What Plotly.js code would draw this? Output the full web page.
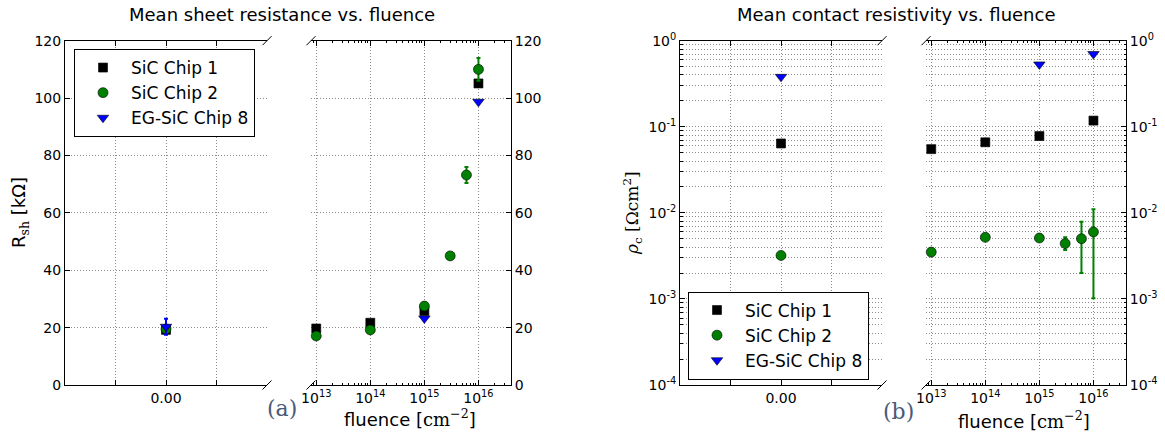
<!DOCTYPE html>
<html>
<head>
<meta charset="utf-8">
<script src="https://cdn.plot.ly/plotly-3.0.1.min.js"></script>
<style>html,body{margin:0;padding:0;background:#fff;}#chart{width:1165px;height:432px;}</style>
</head>
<body>
<div id="chart"></div>
<script>
// ---------- DATA ----------
const seriesNames = ['SiC Chip 1', 'SiC Chip 2', 'EG-SiC Chip 8'];

// unirradiated (fluence 0) sheet resistance [kOhm]
const rshZeroX = [0];
const rshZeroChip1 = [19.2];
const rshZeroChip2 = [19.5];
const rshZeroChip8 = [20.3];
const rshZeroChip8Err = [2.8];

// irradiated sheet resistance [kOhm]
const rshChip1X = [1e13, 1e14, 1e15, 1e16];
const rshChip1Y = [19.7, 21.7, 25.8, 105.1];
const rshChip2X = [1e13, 1e14, 1e15, 3e15, 6e15, 1e16];
const rshChip2Y = [17.1, 19.2, 27.5, 45.0, 73.2, 110.0];
const rshChip2Err = [0.5, 0.5, 1.0, 0.8, 2.8, 4.0];
const rshChip8X = [1e15, 1e16];
const rshChip8Y = [23.2, 98.7];

// unirradiated contact resistivity [Ohm cm^2]
const rcZeroX = [0];
const rcZeroChip1 = [0.064];
const rcZeroChip2 = [0.0032];
const rcZeroChip8 = [0.38];

// irradiated contact resistivity [Ohm cm^2]
const rcChip1X = [1e13, 1e14, 1e15, 1e16];
const rcChip1Y = [0.055, 0.066, 0.078, 0.118];
const rcChip2X = [1e13, 1e14, 1e15, 3e15, 6e15, 1e16];
const rcChip2Y = [0.0035, 0.0052, 0.0051, 0.0044, 0.0050, 0.0060];
const rcChip2ErrPlus = [0.0002, 0.0003, 0.0003, 0.0008, 0.0029, 0.0050];
const rcChip2ErrMinus = [0.0002, 0.0003, 0.0003, 0.0007, 0.0030, 0.00498];
const rcChip8X = [1e15, 1e16];
const rcChip8Y = [0.53, 0.70];

// tick labels
const zeroTickVals = [-1, 0, 1];
const zeroTickText = ['', '0.00', ''];
const fluenceTickVals = [1e13, 1e14, 1e15, 1e16];
const fluenceTickText = ['10<sup>13</sup>', '10<sup>14</sup>', '10<sup>15</sup>', '10<sup>16</sup>'];
const rshTickVals = [0, 20, 40, 60, 80, 100, 120];
const rcTickVals = [1e-4, 1e-3, 1e-2, 1e-1, 1];
const rcTickText = ['10<sup>-4</sup>', '10<sup>-3</sup>', '10<sup>-2</sup>', '10<sup>-1</sup>', '10<sup>0</sup>'];

// ---------- STYLE / LAYOUT ----------
const W = 1165, H = 432;
const px = v => v / W;
const py = v => 1 - v / H;
const colors = ['#000000', '#008000', '#0000ff'];
const symbols = ['square', 'circle', 'triangle-down'];
const sizes = [9, 10, 10];
const FONT = 'DejaVu Sans, sans-serif';

function minorLog(lo, hi) {
  const out = [];
  for (let e = lo; e < hi; e++) for (let m = 2; m <= 9; m++) out.push(m * Math.pow(10, e));
  return out;
}

function tr(i, x, y, xa, ya, opts) {
  const t = {
    type: 'scatter', mode: 'markers', x: x, y: y, xaxis: xa, yaxis: ya,
    name: seriesNames[i], showlegend: false,
    marker: {symbol: symbols[i], size: sizes[i], color: colors[i], line: {color: '#000', width: 0.6}},
    cliponaxis: false
  };
  return Object.assign(t, opts || {});
}
function errSym(arr, i) {
  return {type: 'data', array: arr, visible: true, color: colors[i], thickness: 2, width: 2};
}

const traces = [
  // a1
  tr(0, rshZeroX, rshZeroChip1, 'x', 'y', {showlegend: true, legend: 'legend'}),
  tr(1, rshZeroX, rshZeroChip2, 'x', 'y', {showlegend: true, legend: 'legend'}),
  tr(2, rshZeroX, rshZeroChip8, 'x', 'y', {showlegend: true, legend: 'legend', error_y: errSym(rshZeroChip8Err, 2)}),
  // a2
  tr(0, rshChip1X, rshChip1Y, 'x2', 'y2'),
  tr(1, rshChip2X, rshChip2Y, 'x2', 'y2', {error_y: errSym(rshChip2Err, 1)}),
  tr(2, rshChip8X, rshChip8Y, 'x2', 'y2'),
  // b1
  tr(0, rcZeroX, rcZeroChip1, 'x3', 'y3', {showlegend: true, legend: 'legend2'}),
  tr(1, rcZeroX, rcZeroChip2, 'x3', 'y3', {showlegend: true, legend: 'legend2'}),
  tr(2, rcZeroX, rcZeroChip8, 'x3', 'y3', {showlegend: true, legend: 'legend2'}),
  // b2
  tr(0, rcChip1X, rcChip1Y, 'x4', 'y4'),
  tr(1, rcChip2X, rcChip2Y, 'x4', 'y4', {error_y: {type: 'data', symmetric: false, array: rcChip2ErrPlus, arrayminus: rcChip2ErrMinus, visible: true, color: colors[1], thickness: 2, width: 2}}),
  tr(2, rcChip8X, rcChip8Y, 'x4', 'y4')
];

const yDom = [py(385), py(40.7)];
const gridC = '#8c8c8c';
const gridDash = '1px,2px';
function baseAxis(extra) {
  return Object.assign({
    showline: true, linecolor: '#000', linewidth: 1,
    ticks: 'inside', ticklen: 5, tickcolor: '#000', tickwidth: 1,
    showgrid: true, gridcolor: gridC, griddash: gridDash, gridwidth: 1,
    zeroline: false, tickfont: {family: FONT, size: 14, color: '#000'},
    fixedrange: true
  }, extra);
}
const logXRange = [Math.log10(8e12), Math.log10(4e16)];
const minorX = {tickmode: 'array', tickvals: minorLog(12, 17), ticks: 'inside', ticklen: 2.5, tickcolor: '#000', showgrid: false};
const minorY = {tickmode: 'array', tickvals: minorLog(-4, 0), ticks: 'inside', ticklen: 2.5, tickcolor: '#000', showgrid: true, gridcolor: gridC, griddash: gridDash, gridwidth: 1};

const layout = {
  width: W, height: H,
  margin: {l: 0, r: 0, t: 0, b: 0},
  paper_bgcolor: '#fff', plot_bgcolor: '#fff',
  font: {family: FONT, color: '#000'},
  xaxis: baseAxis({domain: [px(65), px(267)], range: [-2, 2], tickmode: 'array', tickvals: zeroTickVals, ticktext: zeroTickText, anchor: 'y', mirror: 'ticks'}),
  yaxis: baseAxis({domain: yDom, range: [0, 120], tickmode: 'array', tickvals: rshTickVals, anchor: 'x', side: 'left'}),
  xaxis2: baseAxis({domain: [px(311), px(511)], type: 'log', range: logXRange, tickmode: 'array', tickvals: fluenceTickVals, ticktext: fluenceTickText, anchor: 'y2', mirror: 'ticks', minor: minorX}),
  yaxis2: baseAxis({domain: yDom, range: [0, 120], tickmode: 'array', tickvals: rshTickVals, anchor: 'x2', side: 'right'}),
  xaxis3: baseAxis({domain: [px(680), px(882)], range: [-2, 2], tickmode: 'array', tickvals: zeroTickVals, ticktext: zeroTickText, anchor: 'y3', mirror: 'ticks'}),
  yaxis3: baseAxis({domain: yDom, type: 'log', range: [-4, 0], tickmode: 'array', tickvals: rcTickVals, ticktext: rcTickText, anchor: 'x3', side: 'left', minor: minorY}),
  xaxis4: baseAxis({domain: [px(926), px(1126)], type: 'log', range: logXRange, tickmode: 'array', tickvals: fluenceTickVals, ticktext: fluenceTickText, anchor: 'y4', mirror: 'ticks', minor: minorX}),
  yaxis4: baseAxis({domain: yDom, type: 'log', range: [-4, 0], tickmode: 'array', tickvals: rcTickVals, ticktext: rcTickText, anchor: 'x4', side: 'right', minor: minorY}),
  legend: {x: px(74), y: py(49), xanchor: 'left', yanchor: 'top', bgcolor: '#fff', bordercolor: '#000', borderwidth: 1,
           font: {family: FONT, size: 17, color: '#000'}, itemwidth: 46, tracegroupgap: 0},
  legend2: {x: px(688), y: py(291.5), xanchor: 'left', yanchor: 'top', bgcolor: '#fff', bordercolor: '#000', borderwidth: 1,
           font: {family: FONT, size: 17, color: '#000'}, itemwidth: 46, tracegroupgap: 0},
  shapes: [],
  annotations: [
    {text: 'Mean sheet resistance vs. fluence', x: px(281.5), y: py(15), xref: 'paper', yref: 'paper', xanchor: 'center', yanchor: 'middle', showarrow: false, font: {family: FONT, size: 18, color: '#000'}},
    {text: 'Mean contact resistivity vs. fluence', x: px(896), y: py(15), xref: 'paper', yref: 'paper', xanchor: 'center', yanchor: 'middle', showarrow: false, font: {family: FONT, size: 18, color: '#000'}},
    {text: 'R<sub><span style="font-family:DejaVu Serif">sh</span></sub> [kΩ]', x: px(20), y: py(213), xref: 'paper', yref: 'paper', xanchor: 'center', yanchor: 'middle', textangle: -90, showarrow: false, font: {family: FONT, size: 18, color: '#000'}},
    {text: '<i>ρ</i><sub>c</sub> [Ωcm<sup>2</sup>]', x: px(632), y: py(213), xref: 'paper', yref: 'paper', xanchor: 'center', yanchor: 'middle', textangle: -90, showarrow: false, font: {family: 'DejaVu Serif, serif', size: 17, color: '#000'}},
    {text: 'fluence [<span style="font-family:DejaVu Serif">cm<sup>−2</sup></span>]', x: px(410), y: py(418), xref: 'paper', yref: 'paper', xanchor: 'center', yanchor: 'middle', showarrow: false, font: {family: FONT, size: 18, color: '#000'}},
    {text: 'fluence [<span style="font-family:DejaVu Serif">cm<sup>−2</sup></span>]', x: px(1024), y: py(420), xref: 'paper', yref: 'paper', xanchor: 'center', yanchor: 'middle', showarrow: false, font: {family: FONT, size: 18, color: '#000'}},
    {text: '(a)', x: px(282), y: py(408), xref: 'paper', yref: 'paper', xanchor: 'center', yanchor: 'middle', showarrow: false, font: {family: 'DejaVu Serif, serif', size: 22, color: '#4a5a78'}},
    {text: '(b)', x: px(898), y: py(411), xref: 'paper', yref: 'paper', xanchor: 'center', yanchor: 'middle', showarrow: false, font: {family: 'DejaVu Serif, serif', size: 22, color: '#4a5a78'}}
  ]
};

// broken-axis diagonal marks
[[267, 40.7], [267, 385], [311, 40.7], [311, 385], [882, 40.7], [882, 385], [926, 40.7], [926, 385]].forEach(function (c) {
  layout.shapes.push({type: 'line', xref: 'paper', yref: 'paper', x0: px(c[0] - 4.5), y0: py(c[1] + 4.5), x1: px(c[0] + 4.5), y1: py(c[1] - 4.5), line: {color: '#000', width: 1}});
});

Plotly.newPlot('chart', traces, layout, {staticPlot: true, displayModeBar: false});
</script>
</body>
</html>
